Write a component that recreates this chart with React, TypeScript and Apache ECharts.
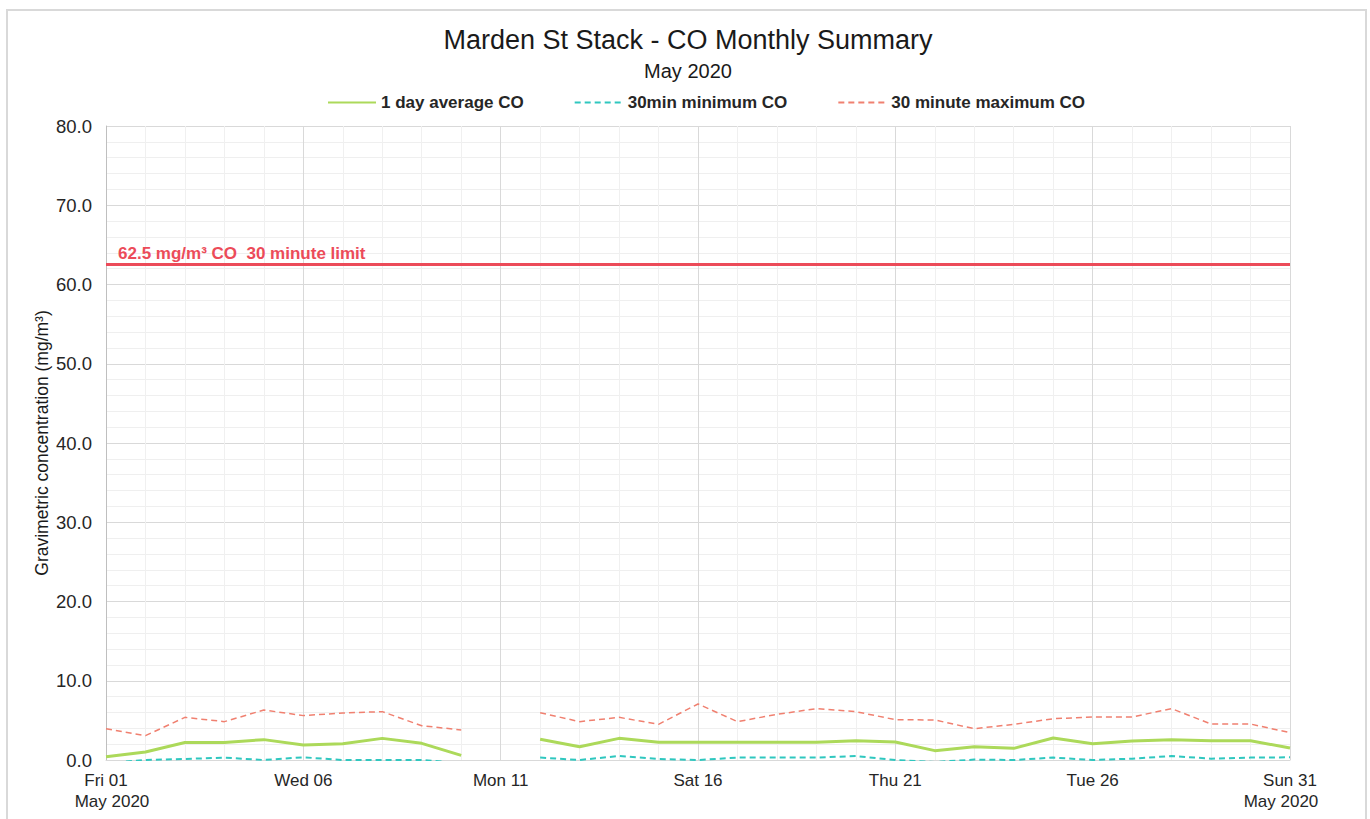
import React, { useEffect, useRef } from "react";
import * as echarts from "echarts";

const dayIndex: number[] = Array.from({ length: 31 }, (_, i) => i);

const avgCO: (number | null)[] = [
  0.42, 1.0, 2.2, 2.2, 2.57, 1.89, 2.06, 2.73, 2.1, 0.59, null,
  2.61, 1.68, 2.73, 2.23, 2.23, 2.23, 2.23, 2.23, 2.44, 2.27,
  1.18, 1.68, 1.47, 2.78, 2.06, 2.4, 2.57, 2.44, 2.44, 1.51,
];

const minCO: (number | null)[] = [
  -0.4, 0.0, 0.13, 0.3, 0.0, 0.34, 0.0, 0.0, 0.0, -0.4, null,
  0.3, 0.0, 0.5, 0.13, 0.0, 0.3, 0.3, 0.3, 0.5, 0.0,
  -0.25, 0.05, 0.0, 0.3, 0.0, 0.17, 0.5, 0.17, 0.3, 0.34,
];

const maxCO: (number | null)[] = [
  3.95, 3.07, 5.38, 4.84, 6.31, 5.6, 5.93, 6.1, 4.33, 3.79, null,
  5.97, 4.84, 5.38, 4.5, 7.07, 4.84, 5.76, 6.48, 6.1, 5.09,
  5.05, 3.95, 4.5, 5.21, 5.43, 5.43, 6.48, 4.54, 4.54, 3.45,
];

const xTickLabels: string[] = ["Fri 01", "Wed 06", "Mon 11", "Sat 16", "Thu 21", "Tue 26", "Sun 31"];
const monthLabel = "May 2020";

const limitValue = 62.5;
const limitLabel = "62.5 mg/m³ CO  30 minute limit";

const seriesNames = ["1 day average CO", "30min minimum CO", "30 minute maximum CO"];

const FONT = "'Liberation Sans', Arial, Helvetica, sans-serif";

export default function App() {
  const ref = useRef<HTMLDivElement>(null);

  useEffect(() => {
    if (!ref.current) return;
    const chart = echarts.init(ref.current, undefined, { renderer: "svg" });
    const pairs = (arr: (number | null)[]) =>
      dayIndex.map((d, i) => [d, arr[i] === null ? null : arr[i]]);

    chart.setOption({
      animation: false,
      backgroundColor: "#ffffff",
      textStyle: { fontFamily: FONT },
      graphic: [
        {
          type: "rect",
          shape: { x: 7, y: 10, width: 1359, height: 830 },
          style: { fill: "none", stroke: "#d9d9d9", lineWidth: 2 },
          silent: true,
        },
      ],
      title: {
        text: "Marden St Stack - CO Monthly Summary",
        subtext: "May 2020",
        left: 688,
        textAlign: "center",
        top: 26,
        padding: 0,
        itemGap: 8,
        textStyle: { fontFamily: FONT, fontSize: 27, fontWeight: "normal", color: "#1a1a1a" },
        subtextStyle: { fontFamily: FONT, fontSize: 20, color: "#1a1a1a" },
      },
      legend: {
        top: 94,
        left: 327,
        itemWidth: 48,
        itemHeight: 14,
        itemGap: 50,
        padding: 0,
        itemStyle: { opacity: 0 },
        textStyle: { fontFamily: FONT, fontSize: 17, fontWeight: "bold", color: "#262626" },
        data: seriesNames,
      },
      grid: { left: 106, right: 80, top: 126, bottom: 59, containLabel: false },
      xAxis: {
        type: "value",
        min: 0,
        max: 30,
        interval: 5,
        axisLine: { show: true, lineStyle: { color: "#d9d9d9", width: 1 } },
        axisTick: { show: false },
        minorTick: { show: false, splitNumber: 5 },
        splitLine: { show: true, lineStyle: { color: "#d9d9d9", width: 1 } },
        minorSplitLine: { show: true, lineStyle: { color: "#f0f0f0", width: 1 } },
        axisLabel: {
          fontFamily: FONT,
          fontSize: 17,
          color: "#262626",
          margin: 10,
          lineHeight: 21,
          formatter: (v: number) => {
            const idx = Math.round(v / 5);
            const day = xTickLabels[idx] ?? "";
            if (idx === 0) return `{d|${day}}\n{ml|${monthLabel}}`;
            if (idx === xTickLabels.length - 1) return `{d|${day}}\n{mr|${monthLabel}}`;
            return `{d|${day}}`;
          },
          rich: {
            d: { fontFamily: FONT, fontSize: 17, color: "#262626", lineHeight: 21 },
            ml: { fontFamily: FONT, fontSize: 17, color: "#262626", lineHeight: 21, padding: [0, 0, 0, 12] },
            mr: { fontFamily: FONT, fontSize: 17, color: "#262626", lineHeight: 21, padding: [0, 18, 0, 0] },
          },
        },
      },
      yAxis: {
        type: "value",
        min: 0,
        max: 80,
        interval: 10,
        name: "Gravimetric concentration (mg/m³)",
        nameLocation: "middle",
        nameGap: 55,
        nameMoveOverlap: false,
        nameTextStyle: { fontFamily: FONT, fontSize: 17.5, color: "#1a1a1a" },
        axisLine: { show: true, lineStyle: { color: "#bfbfbf", width: 1 } },
        axisTick: { show: false },
        minorTick: { show: false, splitNumber: 5 },
        splitLine: { show: true, lineStyle: { color: "#d9d9d9", width: 1 } },
        minorSplitLine: { show: true, lineStyle: { color: "#efefef", width: 1 } },
        axisLabel: {
          fontFamily: FONT,
          fontSize: 18.5,
          color: "#262626",
          margin: 14,
          formatter: (v: number) => v.toFixed(1),
        },
      },
      series: [
        {
          name: seriesNames[0],
          type: "line",
          data: pairs(avgCO),
          symbol: "none",
          connectNulls: false,
          lineStyle: { color: "#acd95a", width: 3, type: "solid" },
          itemStyle: { color: "#acd95a" },
          z: 4,
          markLine: {
            silent: true,
            symbol: "none",
            data: [{ yAxis: limitValue }],
            lineStyle: { color: "#ec4b59", width: 3, type: "solid" },
            label: {
              show: true,
              position: "insideStartTop",
              formatter: limitLabel,
              color: "#ec4b59",
              fontFamily: FONT,
              fontSize: 17,
              fontWeight: "bold",
              distance: [12, 3],
            },
          },
        },
        {
          name: seriesNames[1],
          type: "line",
          data: pairs(minCO),
          symbol: "none",
          connectNulls: false,
          lineStyle: { color: "#2fc7bf", width: 2, type: [6, 4] },
          itemStyle: { color: "#2fc7bf" },
          z: 3,
        },
        {
          name: seriesNames[2],
          type: "line",
          data: pairs(maxCO),
          symbol: "none",
          connectNulls: false,
          lineStyle: { color: "#f08070", width: 1.5, type: [6, 4] },
          itemStyle: { color: "#f08070" },
          z: 3,
        },
      ],
    });

    return () => chart.dispose();
  }, []);

  return (
    <div
      ref={ref}
      style={{ position: "fixed", left: 0, top: 0, width: 1370, height: 819, background: "#fff" }}
    />
  );
}
